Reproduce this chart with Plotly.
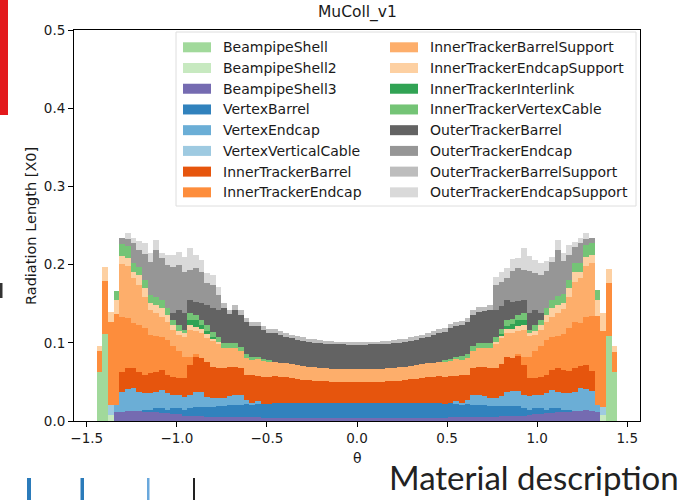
import numpy as np
import plotly.graph_objects as go

# ---------------------------------------------------------------------------
# Radiation length per theta bin, stacked by detector component.
# Histogram: 100 equal bins over [-pi/2, pi/2]; bins 4..95 carry material.
# ---------------------------------------------------------------------------
N_BINS = 100
FIRST_BIN, LAST_BIN = 4, 96

beampipe_shell = [0.063, 0.111] + [0] * 88 + [0.109, 0.063]
beampipe_shell2 = [0, 0, 0.008] + [0] * 86 + [0.008, 0, 0]
beampipe_shell3 = (
    [0, 0, 0, 0.011, 0.012, 0.013, 0.013, 0.0125, 0.012, 0.0111, 0.0111, 0.0107,
     0.0098, 0.0094, 0.009, 0.0068, 0.0068, 0.0064, 0.006, 0.0055, 0.0055, 0.0055,
     0.0055, 0.0055, 0.0055, 0.0051, 0.0051, 0.0047, 0.0047, 0.0043, 0.0043, 0.0043,
     0.0043, 0.0042, 0.0042, 0.0042, 0.0041, 0.0041, 0.0041, 0.004, 0.004, 0.004,
     0.004, 0.004, 0.004, 0.004]
    + [0.004, 0.004, 0.004, 0.004, 0.004, 0.004, 0.0041, 0.0041, 0.0041, 0.0042,
       0.0042, 0.0042, 0.0043, 0.0043, 0.0043, 0.0043, 0.0047, 0.0047, 0.0051, 0.0051,
       0.0055, 0.0055, 0.0055, 0.0055, 0.0055, 0.006, 0.006, 0.0064, 0.0068, 0.0068,
       0.0072, 0.009, 0.0094, 0.0098, 0.0107, 0.0111, 0.0115, 0.012, 0.0125, 0.013,
       0.0135, 0.013, 0.012, 0, 0, 0]
)
vertex_barrel = (
    [0] * 8
    + [0.0017, 0.003, 0.0051, 0.0055, 0.0043, 0.0068, 0.0072, 0.0073, 0.0102, 0.0119,
       0.0124, 0.0128, 0.0128, 0.0141, 0.0141, 0.0149, 0.0149, 0.0153, 0.0162, 0.0158,
       0.0166, 0.0179, 0.0179, 0.0183, 0.0183, 0.0184, 0.0184, 0.0184, 0.0185, 0.0185,
       0.0185, 0.0186, 0.0186, 0.0186, 0.0186, 0.0186, 0.0186, 0.0186]
    + [0.0186, 0.0186, 0.0186, 0.0186, 0.0186, 0.0186, 0.0186, 0.0185, 0.0185, 0.0185,
       0.0184, 0.0184, 0.0184, 0.0183, 0.0183, 0.0179, 0.0179, 0.0166, 0.0158, 0.0162,
       0.0153, 0.0149, 0.0149, 0.0141, 0.0141, 0.0128, 0.0128, 0.0124, 0.0119, 0.0102,
       0.0073, 0.0072, 0.0068, 0.0043, 0.0055, 0.0051, 0.003, 0.0017]
    + [0] * 8
)
vertex_endcap = (
    [0, 0, 0, 0.010, 0.025, 0.028, 0.0288, 0.025, 0.0217, 0.0213, 0.0213, 0.0234,
     0.0213, 0.017, 0.017, 0.017, 0.0161, 0.0192, 0.0192, 0.0128, 0.0107, 0.0094,
     0.0094, 0.0119, 0.0128, 0.0128, 0.0055, 0.0021, 0.0043]
    + [0] * 34
    + [0.0043, 0.0021, 0.0055, 0.0128, 0.0128, 0.0119, 0.0094, 0.0094, 0.0137, 0.0187,
       0.0192, 0.0192, 0.0161, 0.017, 0.017, 0.017, 0.0213, 0.0234, 0.0213, 0.0213,
       0.0217, 0.025, 0.0288, 0.028, 0.025, 0.008, 0, 0, 0]
)
vertex_vertical_cable = [0, 0, 0.012] + [0] * 86 + [0.010, 0, 0]
inner_tracker_barrel = (
    [0, 0, 0, 0, 0.026, 0.027, 0.0255, 0.0256, 0.0234, 0.0256, 0.0256, 0.0256, 0.0234,
     0.0235, 0.0214, 0.0235, 0.0384, 0.0448, 0.0426, 0.0448, 0.0405, 0.0383, 0.0392,
     0.0371, 0.0363, 0.0341, 0.0319, 0.0362, 0.0324, 0.0345, 0.0345, 0.0351, 0.0341,
     0.0331, 0.0321, 0.0312, 0.0304, 0.0296, 0.029, 0.0284, 0.028, 0.0278, 0.0277,
     0.0276, 0.0276, 0.0276]
    + [0.0276, 0.0276, 0.0276, 0.0277, 0.0278, 0.028, 0.0284, 0.029, 0.0296, 0.0304,
       0.0312, 0.0321, 0.0331, 0.0341, 0.0351, 0.0345, 0.0345, 0.0324, 0.0362, 0.0319,
       0.0341, 0.0363, 0.0371, 0.0392, 0.0383, 0.0405, 0.0448, 0.0426, 0.0448, 0.0384,
       0.0235, 0.0214, 0.0235, 0.0234, 0.0256, 0.030, 0.030, 0.028, 0.030, 0.029,
       0.030, 0.026, 0, 0, 0, 0]
)
inner_tracker_endcap = (
    [0.0265, 0.068, 0.107, 0.1155, 0.070, 0.064, 0.0576, 0.0597, 0.060, 0.0489,
     0.0456, 0.0422, 0.0442, 0.0397, 0.0354, 0.0272, 0.0107, 0.003]
    + [0] * 56
    + [0.003, 0.0107, 0.0272, 0.0354, 0.0397, 0.0442, 0.0422, 0.0416, 0.0449, 0.0557,
       0.0597, 0.0541, 0.061, 0.070, 0.1145, 0.097, 0.067, 0.0257]
)
inner_tracker_barrel_support = (
    [0, 0, 0, 0, 0.068, 0.066, 0.0575, 0.0511, 0.040, 0.032, 0.029, 0.026, 0.024,
     0.020, 0.020, 0.026, 0.0341, 0.0298, 0.032, 0.0307, 0.0328, 0.032, 0.0247,
     0.0243, 0.0234, 0.0222, 0.0213, 0.0192, 0.0209, 0.0205, 0.020, 0.0182, 0.018,
     0.0179, 0.0178, 0.0177, 0.0175, 0.0173, 0.0171, 0.017, 0.0169, 0.0167, 0.0165,
     0.0164, 0.0163, 0.0163]
    + [0.0163, 0.0163, 0.0164, 0.0165, 0.0167, 0.0169, 0.017, 0.0171, 0.0173, 0.0175,
       0.0177, 0.0178, 0.0179, 0.018, 0.0182, 0.020, 0.0205, 0.0209, 0.0192, 0.0213,
       0.0222, 0.0234, 0.0243, 0.0247, 0.032, 0.0328, 0.0307, 0.032, 0.0298, 0.0341,
       0.026, 0.020, 0.020, 0.024, 0.026, 0.029, 0.032, 0.040, 0.0511, 0.0575,
       0.066, 0.068, 0, 0, 0, 0]
)
inner_tracker_endcap_support = (
    [0.0065, 0.018, 0.013, 0.018, 0.010, 0.011, 0.0086, 0.0128, 0.0107, 0.0085,
     0.0106, 0.0107, 0.0085, 0.0064, 0.0051, 0.0043, 0.0064, 0.0055, 0.0055, 0.0043,
     0.0034, 0.0021]
    + [0] * 48
    + [0.0021, 0.0034, 0.0043, 0.0055, 0.0055, 0.0064, 0.0043, 0.0051, 0.0064, 0.0085,
       0.0107, 0.0106, 0.0085, 0.0107, 0.0128, 0.0086, 0.011, 0.010, 0.020, 0.023,
       0.018, 0.0076]
)
inner_tracker_interlink = (
    [0] * 16 + [0.0064, 0.0085, 0.0051, 0.0043, 0.0021]
    + [0] * 50
    + [0.0021, 0.0043, 0.006, 0.0085, 0.0064] + [0] * 16
)
inner_tracker_vertex_cable = (
    [0, 0, 0, 0.012, 0.015, 0.015, 0.0106, 0.0107, 0.0106, 0.0107, 0.0107, 0.0106,
     0.0086, 0.0064, 0.0077, 0.0043, 0.0085, 0.0064, 0.0064, 0.0077, 0.0064, 0.0064,
     0.0064, 0.0055, 0.0064, 0.0055, 0.0051, 0.0043, 0.0034, 0.0021, 0.0013]
    + [0] * 30
    + [0.0013, 0.0021, 0.0034, 0.0043, 0.0051, 0.0055, 0.0064, 0.0055, 0.0064, 0.0064,
       0.0064, 0.0077, 0.0064, 0.0064, 0.0085, 0.0043, 0.0077, 0.0064, 0.0086, 0.0106,
       0.0107, 0.0107, 0.0106, 0.0107, 0.0106, 0.015, 0.015, 0.013, 0, 0, 0]
)
outer_tracker_barrel = (
    [0] * 13
    + [0.0085, 0.0191, 0.0213, 0.017, 0.0171, 0.0213, 0.0255, 0.0299, 0.0341, 0.0448,
       0.0371, 0.0426, 0.0404, 0.0409, 0.0396, 0.0396, 0.0375, 0.035, 0.0361, 0.0351,
       0.0341, 0.0332, 0.0327, 0.0323, 0.032, 0.0316, 0.0313, 0.0311, 0.0311, 0.0312,
       0.0313, 0.0313, 0.0313]
    + [0.0313, 0.0313, 0.0313, 0.0312, 0.0311, 0.0311, 0.0313, 0.0316, 0.032, 0.0323,
       0.0327, 0.0332, 0.0341, 0.0351, 0.0361, 0.0363, 0.0397, 0.0396, 0.0396, 0.0409,
       0.0404, 0.0403, 0.0412, 0.0423, 0.0341, 0.0299, 0.0255, 0.0213, 0.0171, 0.017,
       0.0213, 0.0191, 0.0085]
    + [0] * 13
)
outer_tracker_endcap = (
    [0] * 4
    + [0.0076, 0.0085, 0.0256, 0.0213, 0.0341, 0.0426, 0.0597, 0.0533, 0.0554, 0.0597,
       0.0576, 0.0533, 0.0384, 0.0426, 0.0405, 0.0277, 0.0298, 0.0192]
    + [0] * 48
    + [0.032, 0.0298, 0.0277, 0.0405, 0.0426, 0.0384, 0.0533, 0.048, 0.049, 0.048,
       0.049, 0.0597, 0.0426, 0.032, 0.0213, 0.0256, 0.0085, 0.0076]
    + [0] * 4
)
outer_tracker_barrel_support = (
    [0] * 22
    + [0.0064, 0.0055, 0.0064, 0.0064, 0.0051, 0.0051, 0.0051, 0.0051, 0.0051, 0.006,
       0.0055, 0.005, 0.0047, 0.0045, 0.0043, 0.004, 0.004, 0.0038, 0.0036, 0.0035,
       0.0035, 0.0035, 0.0035, 0.0035]
    + [0.0035, 0.0035, 0.0035, 0.0035, 0.0035, 0.0036, 0.0038, 0.004, 0.004, 0.0043,
       0.0045, 0.0047, 0.005, 0.0055, 0.006, 0.0051, 0.0051, 0.0051, 0.0051, 0.0051,
       0.0064, 0.0064, 0.0055, 0.0064]
    + [0] * 22
)
outer_tracker_endcap_support = (
    [0] * 5
    + [0.0075, 0.0064, 0.0115, 0.0128, 0.0107, 0.0128, 0.0064, 0.0128, 0.0149, 0.0162,
       0.0191, 0.0277, 0.0171, 0.0149, 0.0128, 0.0128, 0.0107]
    + [0] * 48
    + [0.0107, 0.0128, 0.0128, 0.0149, 0.013, 0.0277, 0.0191, 0.0162, 0.0149, 0.0128,
       0.0064, 0.0128, 0.0107, 0.0128, 0.0063, 0.0064, 0.0075]
    + [0] * 5
)

component_names = [
    "BeampipeShell", "BeampipeShell2", "BeampipeShell3",
    "VertexBarrel", "VertexEndcap", "VertexVerticalCable",
    "InnerTrackerBarrel", "InnerTrackerEndcap",
    "InnerTrackerBarrelSupport", "InnerTrackerEndcapSupport",
    "InnerTrackerInterlink", "InnerTrackerVertexCable",
    "OuterTrackerBarrel", "OuterTrackerEndcap",
    "OuterTrackerBarrelSupport", "OuterTrackerEndcapSupport",
]
component_values = [
    beampipe_shell, beampipe_shell2, beampipe_shell3,
    vertex_barrel, vertex_endcap, vertex_vertical_cable,
    inner_tracker_barrel, inner_tracker_endcap,
    inner_tracker_barrel_support, inner_tracker_endcap_support,
    inner_tracker_interlink, inner_tracker_vertex_cable,
    outer_tracker_barrel, outer_tracker_endcap,
    outer_tracker_barrel_support, outer_tracker_endcap_support,
]
# tab20c palette
component_colors = [
    "#a1d99b", "#c7e9c0", "#756bb1",
    "#3182bd", "#6baed6", "#9ecae1",
    "#e6550d", "#fd8d3c", "#fdae6b", "#fdd0a2",
    "#31a354", "#74c476",
    "#636363", "#969696", "#bdbdbd", "#d9d9d9",
]

x_ticks = [-1.5, -1.0, -0.5, 0.0, 0.5, 1.0, 1.5]
y_ticks = [0.0, 0.1, 0.2, 0.3, 0.4, 0.5]

# ---------------------------------------------------------------------------
edges = np.linspace(-np.pi / 2, np.pi / 2, N_BINS + 1)
centers = 0.5 * (edges[:-1] + edges[1:])
theta = centers[FIRST_BIN:LAST_BIN]
bin_width = edges[1] - edges[0]
for vals in component_values:
    assert len(vals) == len(theta)

FONT = "DejaVu Sans"
INK = "#1a1a1a"

fig = go.Figure()
for name, vals, col in zip(component_names, component_values, component_colors):
    fig.add_trace(go.Bar(
        x=theta, y=vals, width=bin_width, name=name,
        marker=dict(color=col, line=dict(width=0)),
        showlegend=False,
    ))

# plot-area geometry in pixels (used for placing decorations)
FIG_W, FIG_H = 685, 500
L, R, T, B = 74, 640, 30, 421


def px(x):
    return (x - L) / (R - L)


def py(y):
    return (B - y) / (B - T)


shapes = []
annotations = []

# legend frame + two columns of patches
shapes.append(dict(type="rect", xref="paper", yref="paper",
                   x0=px(176), x1=px(636), y0=py(32), y1=py(206),
                   line=dict(color="#dedede", width=1),
                   fillcolor="rgba(255,255,255,0.8)", layer="above"))
ROW0, ROW_STEP = 47.3, 20.72
for i, (name, col) in enumerate(zip(component_names, component_colors)):
    c, r = divmod(i, 8)
    yc = ROW0 + r * ROW_STEP
    x0 = 183 if c == 0 else 390
    shapes.append(dict(type="rect", xref="paper", yref="paper",
                       x0=px(x0), x1=px(x0 + 28), y0=py(yc + 5), y1=py(yc - 5),
                       line=dict(width=0), fillcolor=col, layer="above"))
    annotations.append(dict(xref="paper", yref="paper", x=px(x0 + 38), y=py(yc),
                            text=name, showarrow=False, xanchor="left", yanchor="middle",
                            font=dict(family=FONT, size=14, color=INK)))

# title and axis labels
annotations.append(dict(xref="paper", yref="paper", x=px(357), y=py(12),
                        text="MuColl_v1", showarrow=False, xanchor="center", yanchor="middle",
                        font=dict(family=FONT, size=15.5, color=INK)))
annotations.append(dict(xref="paper", yref="paper", x=px(31), y=py(226),
                        text="Radiation Length [X0]", showarrow=False, textangle=-90,
                        xanchor="center", yanchor="middle",
                        font=dict(family=FONT, size=14.5, color=INK)))
annotations.append(dict(xref="paper", yref="paper", x=px(357), y=py(458),
                        text="θ", showarrow=False, xanchor="center", yanchor="middle",
                        font=dict(family=FONT, size=14, color=INK)))

# slide decorations around the chart
shapes.append(dict(type="rect", xref="paper", yref="paper",
                   x0=px(0), x1=px(8), y0=py(0), y1=py(115),
                   line=dict(width=0), fillcolor="#e3191c", layer="above"))
shapes.append(dict(type="rect", xref="paper", yref="paper",
                   x0=px(0), x1=px(2.5), y0=py(283), y1=py(298),
                   line=dict(width=0), fillcolor="#333333", layer="above"))
for x0, x1, col in [(27, 31, "#2b7bba"), (80.5, 84, "#2b7bba"),
                    (147, 149.5, "#6aa8dc"), (193, 195, "#222222")]:
    shapes.append(dict(type="rect", xref="paper", yref="paper",
                       x0=px(x0), x1=px(x1), y0=py(478), y1=py(500),
                       line=dict(width=0), fillcolor=col, layer="above"))
annotations.append(dict(xref="paper", yref="paper", x=px(681), y=py(477),
                        text="Material description", showarrow=False,
                        xanchor="right", yanchor="middle",
                        font=dict(family="Lato", size=33, color="#222222")))

axis_style = dict(showline=True, linecolor="black", linewidth=1, mirror=True,
                  ticks="outside", ticklen=5, tickwidth=1, tickcolor="black",
                  showgrid=False, zeroline=False,
                  tickfont=dict(family=FONT, size=13.5, color=INK))

fig.update_layout(
    width=FIG_W, height=FIG_H,
    margin=dict(l=L, r=FIG_W - R, t=T, b=FIG_H - B),
    paper_bgcolor="white", plot_bgcolor="white",
    barmode="stack", bargap=0, showlegend=False,
    xaxis=dict(range=[-np.pi / 2, np.pi / 2], tickvals=x_ticks, tickformat=".1f", **axis_style),
    yaxis=dict(range=[0, 0.5], tickvals=y_ticks, tickformat=".1f", **axis_style),
    shapes=shapes, annotations=annotations,
)

fig.write_html("out.html")
